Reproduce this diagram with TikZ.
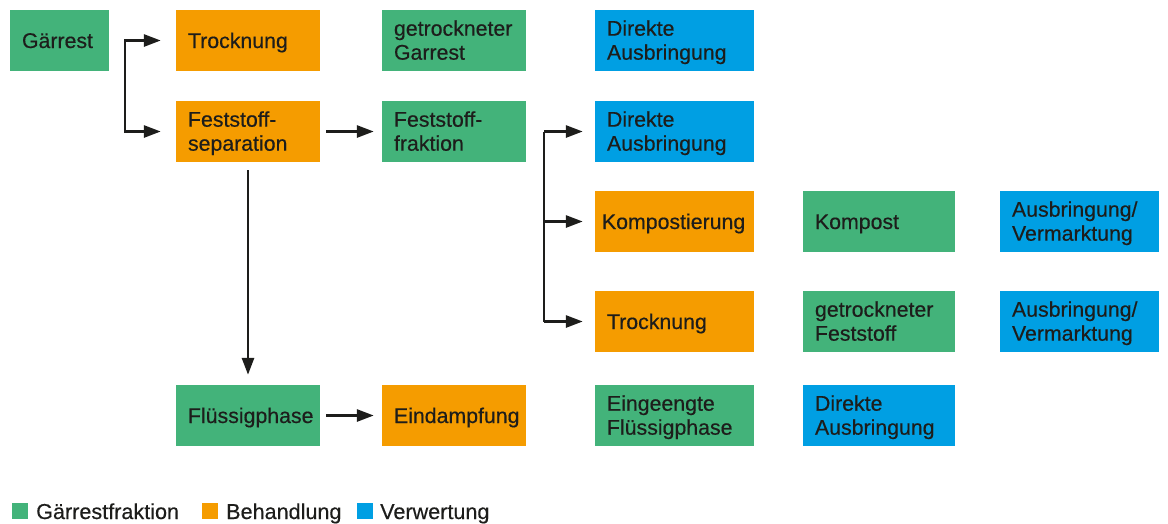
\documentclass[tikz,border=0pt]{standalone}
\usepackage{fontspec}
\setmainfont{Liberation Sans}[FakeBold=0.4]
\usetikzlibrary{arrows.meta}
\definecolor{fraktion}{HTML}{43B37A}
\definecolor{behandlung}{HTML}{F59C00}
\definecolor{verwertung}{HTML}{009FE3}
\definecolor{schrift}{HTML}{1D1D1B}
\tikzset{
  box/.style={rectangle, minimum height=61pt, inner xsep=12pt, inner ysep=0pt,
    align=left, text=schrift, text height=15pt, text depth=0pt,
    font=\fontsize{21.3}{24}\selectfont},
  zwei/.style={text depth=24.6pt},
  frak/.style={box, fill=fraktion},
  behand/.style={box, fill=behandlung},
  verw/.style={box, fill=verwertung},
  flow/.style={line width=2.8pt, draw=schrift, -{Triangle[length=17pt,width=12pt]}},
  legsq/.style={rectangle, minimum size=16pt, inner sep=0pt},
  legtext/.style={anchor=base west, inner sep=0pt, text=schrift, font=\fontsize{21.6}{24}\selectfont},
}

\begin{document}
\begin{tikzpicture}[x=1pt, y=-1pt]
\useasboundingbox (0,0) rectangle (1168,523);

% Erste Zeile
\node[frak, text width=75pt]    (gaer)     at (59.5,40.5)  {Gärrest};
\node[behand, text width=120pt] (trockA)   at (248,40.5)   {Trocknung};
\node[frak, zwei, text width=120pt] (getrGar) at (454,40.5) {getrockneter\\Garrest};
\node[verw, zwei, text width=135pt] (direktA) at (674.5,40.5) {Direkte\\Ausbringung};

% Feststoffpfad
\node[behand, zwei, text width=120pt] (separ)    at (248,131.5) {Feststoff-\\separation};
\node[frak, zwei, text width=120pt]   (fraktion) at (454,131.5) {Feststoff-\\fraktion};
\node[verw, zwei, text width=135pt]   (direktB)  at (674.5,131.5) {Direkte\\Ausbringung};
\node[behand, text width=145pt, inner xsep=7pt] (kompier) at (674.5,221.5) {Kompostierung};
\node[frak, text width=128pt]   (kompost)  at (879,221.5)    {Kompost};
\node[verw, zwei, text width=135pt] (vermA) at (1079.5,221.5) {Ausbringung/\\Vermarktung};
\node[behand, text width=135pt] (trockB)   at (674.5,321.5)  {Trocknung};
\node[frak, zwei, text width=128pt] (getrFest) at (879,321.5) {getrockneter\\Feststoff};
\node[verw, zwei, text width=135pt] (vermB) at (1079.5,321.5) {Ausbringung/\\Vermarktung};

% Fluessigpfad
\node[frak, text width=120pt]   (fluessig)  at (248,415.5)   {Flüssigphase};
\node[behand, text width=120pt] (eindampf)  at (454,415.5)   {Eindampfung};
\node[frak, zwei, text width=135pt] (eingeengt) at (674.5,415.5) {Eingeengte\\Flüssigphase};
\node[verw, zwei, text width=128pt] (direktC)   at (879,415.5)   {Direkte\\Ausbringung};

\path % Gabelpunkte der beiden Klammern
  (125,40.5)  coordinate (gabelA)
  (125,131.5) coordinate (gabelB)
  (544,131.5) coordinate (gabelC)
  (544,221.5) coordinate (gabelD)
  (544,321.5) coordinate (gabelE)
  ;

% Klammer vom Gaerrest
\draw[flow, shorten >=15pt] (gabelB) -- (gabelA) -- (gabelA -| trockA.west);
\draw[flow, shorten >=15pt] (gabelA) -- (gabelB) -- (gabelB -| separ.west);

% Gerade Pfeile
\draw[flow, shorten <=6pt, shorten >=8pt] (separ) -- (fraktion);
\draw[flow, shorten <=8pt, shorten >=10pt] (separ) -- (fluessig);
\draw[flow, shorten <=6pt, shorten >=8pt] (fluessig) -- (eindampf);

% Klammer von der Feststofffraktion
\draw[line width=2.8pt, draw=schrift] (gabelC) -- (gabelE);
\draw[flow, shorten >=12pt] (gabelC) -- (gabelC -| direktB.west);
\draw[flow, shorten >=12pt] (gabelD) -- (gabelD -| kompier.west);
\draw[flow, shorten >=12pt] (gabelE) -- (gabelE -| trockB.west);

% Legende
\node[legsq, fill=fraktion]   (legA) at (20,511)  {};
\node[legtext] (legAtext) at (36,519)  {Gärrestfraktion};
\node[legsq, fill=behandlung] (legB) at (210,511) {};
\node[legtext] (legBtext) at (226,519) {Behandlung};
\node[legsq, fill=verwertung] (legC) at (365,511) {};
\node[legtext] (legCtext) at (380,519) {Verwertung};

\end{tikzpicture}
\end{document}
